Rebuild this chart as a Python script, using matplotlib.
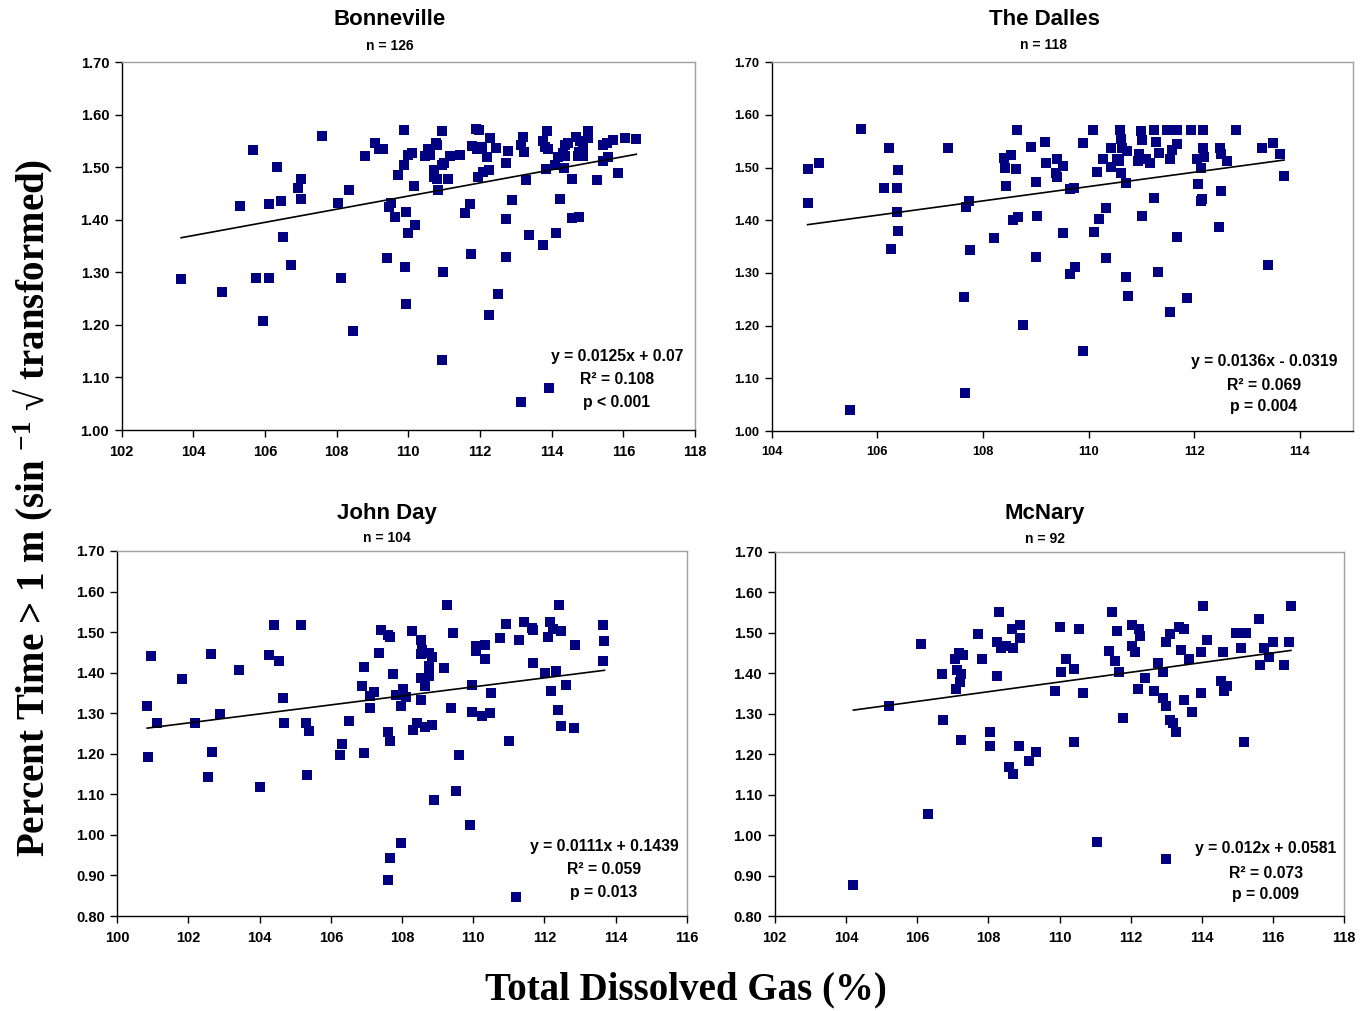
import matplotlib
matplotlib.use("Agg")
import matplotlib.pyplot as plt
import numpy as np

# ---------------- data ----------------
bon_x = [103.66, 104.81, 105.31, 105.67, 105.76, 106.12, 105.95, 106.12, 106.34, 106.45,
         106.51, 106.73, 106.93, 107.01, 107.01, 107.60, 108.05, 108.13, 108.35, 108.46,
         108.80, 109.08, 109.19, 109.30, 109.41, 109.47, 109.52, 109.64, 109.72, 109.89,
         109.89, 109.92, 109.94, 110.00, 109.94, 110.00, 110.19, 110.17, 110.11, 110.46,
         110.60, 110.56, 110.81, 110.77, 110.95, 110.95, 111.00, 110.72, 110.72, 110.79,
         110.84, 111.11, 111.16, 111.44, 110.98, 110.95, 111.59, 111.73, 111.76, 111.79,
         111.90, 111.98, 111.92, 112.06, 111.95, 112.09, 112.26, 112.20, 112.29, 112.45,
         112.51, 112.26, 112.79, 112.73, 112.73, 112.90, 112.73, 113.15, 113.21, 113.24,
         113.29, 113.38, 113.15, 113.77, 113.77, 113.82, 113.88, 113.85, 113.92, 114.13,
         114.10, 114.19, 114.32, 114.38, 114.46, 114.24, 114.35, 114.58, 114.58, 114.77,
         114.69, 114.80, 114.88, 114.88, 114.74, 115.02, 115.02, 115.27, 115.44, 115.55,
         115.72, 115.44, 115.58, 115.86, 116.06, 116.36, 113.89, 114.76, 114.37]
bon_y = [1.287, 1.262, 1.427, 1.532, 1.290, 1.290, 1.207, 1.429, 1.500, 1.435,
         1.368, 1.313, 1.460, 1.477, 1.439, 1.559, 1.431, 1.290, 1.456, 1.188,
         1.521, 1.545, 1.534, 1.534, 1.327, 1.424, 1.431, 1.405, 1.485, 1.504,
         1.570, 1.311, 1.239, 1.523, 1.414, 1.374, 1.389, 1.464, 1.526, 1.521,
         1.524, 1.534, 1.542, 1.545, 1.569, 1.504, 1.507, 1.494, 1.481, 1.477,
         1.457, 1.477, 1.521, 1.524, 1.300, 1.133, 1.412, 1.429, 1.334, 1.540,
         1.573, 1.570, 1.534, 1.538, 1.481, 1.490, 1.494, 1.520, 1.555, 1.536,
         1.258, 1.218, 1.530, 1.507, 1.401, 1.437, 1.329, 1.543, 1.557, 1.528,
         1.475, 1.370, 1.053, 1.351, 1.549, 1.538, 1.569, 1.496, 1.079, 1.374,
         1.505, 1.519, 1.526, 1.543, 1.545, 1.439, 1.498, 1.477, 1.403, 1.405,
         1.557, 1.549, 1.538, 1.521, 1.521, 1.569, 1.555, 1.475, 1.542, 1.545,
         1.551, 1.511, 1.519, 1.488, 1.555, 1.553, 1.535, 1.529, 1.522]

dal_x = [104.68, 104.89, 104.68, 105.70, 105.49, 106.23, 106.39, 106.12, 106.37, 106.37,
         106.39, 106.25, 107.34, 107.73, 107.68, 107.75, 107.64, 107.66, 108.21, 108.40,
         108.53, 108.42, 108.63, 108.44, 108.65, 108.57, 108.66, 108.76, 108.91, 109.01,
         109.03, 109.01, 109.18, 109.20, 109.41, 109.39, 109.41, 109.52, 109.52, 109.65,
         109.73, 109.65, 109.75, 109.90, 109.89, 110.09, 110.15, 110.11, 110.20, 110.32,
         110.32, 110.28, 110.43, 110.43, 110.53, 110.60, 110.62, 110.64, 110.73, 110.58,
         110.62, 110.70, 110.70, 110.75, 111.00, 111.02, 110.96, 110.93, 111.08, 111.17,
         111.02, 111.23, 111.27, 111.34, 111.23, 111.31, 111.48, 111.67, 111.67, 111.57,
         111.55, 111.67, 111.55, 111.86, 111.93, 112.16, 112.16, 112.18, 112.05, 112.12,
         112.08, 112.14, 112.12, 112.48, 112.50, 112.62, 112.50, 112.46, 112.79, 113.28,
         113.49, 113.39, 113.63, 113.70]
dal_y = [1.497, 1.508, 1.432, 1.573, 1.039, 1.538, 1.495, 1.462, 1.461, 1.415,
         1.379, 1.345, 1.538, 1.436, 1.426, 1.343, 1.254, 1.073, 1.366, 1.519,
         1.524, 1.500, 1.497, 1.466, 1.571, 1.400, 1.407, 1.201, 1.540, 1.472,
         1.409, 1.331, 1.548, 1.508, 1.516, 1.489, 1.483, 1.375, 1.504, 1.460,
         1.461, 1.299, 1.311, 1.152, 1.546, 1.571, 1.491, 1.377, 1.402, 1.423,
         1.328, 1.517, 1.538, 1.502, 1.516, 1.571, 1.554, 1.538, 1.531, 1.512,
         1.489, 1.470, 1.292, 1.257, 1.569, 1.553, 1.525, 1.512, 1.516, 1.508,
         1.409, 1.571, 1.548, 1.527, 1.442, 1.301, 1.571, 1.571, 1.544, 1.533,
         1.517, 1.369, 1.225, 1.252, 1.571, 1.571, 1.538, 1.521, 1.517, 1.500,
         1.468, 1.440, 1.436, 1.538, 1.525, 1.512, 1.455, 1.388, 1.571, 1.538,
         1.546, 1.316, 1.525, 1.485]

jd_x = [100.96, 100.84, 100.87, 101.12, 101.83, 102.19, 102.64, 102.67, 102.56, 102.89,
        103.43, 104.02, 104.27, 104.41, 104.53, 104.67, 104.69, 105.17, 105.31, 105.40,
        105.34, 106.25, 106.32, 106.52, 106.89, 106.94, 106.94, 107.11, 107.11, 107.22,
        107.34, 107.42, 107.62, 107.67, 107.76, 107.62, 107.65, 107.67, 107.62, 107.97,
        107.84, 107.97, 108.04, 108.12, 108.29, 108.54, 108.57, 108.54, 108.77, 108.83,
        108.77, 108.52, 108.77, 108.66, 108.54, 108.43, 108.32, 108.66, 108.83, 108.91,
        109.27, 109.44, 109.19, 109.39, 109.61, 109.53, 109.92, 109.98, 110.09, 110.09,
        110.34, 110.34, 109.98, 110.26, 110.48, 110.51, 110.74, 110.91, 111.02, 111.20,
        111.30, 111.44, 111.64, 111.69, 111.69, 112.03, 112.11, 112.17, 112.25, 112.48,
        112.42, 112.34, 112.20, 112.37, 112.48, 112.62, 112.87, 112.84, 113.66, 113.69,
        113.66]
jd_y = [1.441, 1.317, 1.191, 1.275, 1.384, 1.275, 1.445, 1.204, 1.142, 1.297,
        1.406, 1.117, 1.443, 1.517, 1.428, 1.337, 1.275, 1.517, 1.275, 1.255,
        1.147, 1.196, 1.223, 1.280, 1.366, 1.413, 1.201, 1.342, 1.312, 1.352,
        1.448, 1.504, 1.494, 1.487, 1.396, 1.253, 1.231, 0.942, 0.889, 0.979,
        1.344, 1.319, 1.359, 1.339, 1.502, 1.480, 1.455, 1.445, 1.448, 1.438,
        1.416, 1.388, 1.391, 1.366, 1.332, 1.275, 1.258, 1.267, 1.270, 1.085,
        1.568, 1.499, 1.411, 1.314, 1.198, 1.107, 1.024, 1.369, 1.465, 1.453,
        1.467, 1.433, 1.302, 1.292, 1.300, 1.349, 1.485, 1.519, 1.231, 0.846,
        1.480, 1.526, 1.509, 1.504, 1.423, 1.398, 1.487, 1.526, 1.507, 1.502,
        1.568, 1.403, 1.356, 1.309, 1.268, 1.369, 1.467, 1.263, 1.517, 1.477,
        1.430]

mcn_x = [104.21, 105.22, 106.11, 106.31, 106.70, 106.73, 107.07, 107.18, 107.29, 107.13,
         107.24, 107.21, 107.10, 107.24, 107.71, 107.83, 108.05, 108.05, 108.30, 108.25,
         108.36, 108.50, 108.70, 108.25, 108.67, 108.89, 108.89, 108.87, 108.58, 108.70,
         109.15, 109.34, 109.88, 110.02, 110.04, 110.18, 110.41, 110.55, 110.66, 110.41,
         111.05, 111.39, 111.48, 111.62, 111.56, 111.67, 111.78, 112.04, 112.23, 112.26,
         112.04, 112.12, 112.40, 112.21, 112.65, 112.77, 112.91, 112.91, 112.99, 113.10,
         113.19, 113.27, 112.99, 112.99, 113.10, 113.36, 113.50, 113.41, 113.64, 113.50,
         113.72, 114.03, 114.14, 113.97, 113.97, 114.53, 114.70, 114.62, 114.59, 114.96,
         115.24, 115.10, 115.18, 115.60, 115.74, 115.63, 115.88, 115.99, 116.30, 116.44,
         116.50]
mcn_y = [0.876, 1.318, 1.471, 1.051, 1.397, 1.283, 1.434, 1.449, 1.446, 1.407,
         1.397, 1.377, 1.362, 1.234, 1.496, 1.436, 1.254, 1.221, 1.550, 1.476,
         1.463, 1.468, 1.463, 1.392, 1.510, 1.520, 1.488, 1.219, 1.167, 1.152,
         1.182, 1.204, 1.355, 1.515, 1.404, 1.434, 1.409, 1.508, 1.350, 1.229,
         0.982, 1.454, 1.552, 1.505, 1.431, 1.402, 1.288, 1.520, 1.510, 1.491,
         1.468, 1.451, 1.389, 1.360, 1.357, 1.424, 1.404, 1.338, 1.320, 1.283,
         1.278, 1.254, 0.940, 1.478, 1.496, 1.515, 1.508, 1.456, 1.436, 1.333,
         1.305, 1.567, 1.483, 1.451, 1.350, 1.380, 1.367, 1.355, 1.451, 1.498,
         1.498, 1.463, 1.231, 1.533, 1.463, 1.421, 1.441, 1.476, 1.419, 1.478,
         1.567]

titles = ["Bonneville", "The Dalles", "John Day", "McNary"]
n_labels = ["n = 126", "n = 118", "n = 104", "n = 92"]
slopes = [0.0125, 0.0136, 0.0111, 0.012]
intercepts = [0.07, -0.0319, 0.1439, 0.0581]
eq_labels = ["y = 0.0125x + 0.07", "y = 0.0136x - 0.0319",
             "y = 0.0111x + 0.1439", "y = 0.012x + 0.0581"]
r2_labels = ["R² = 0.108", "R² = 0.069", "R² = 0.059", "R² = 0.073"]
p_labels = ["p < 0.001", "p = 0.004", "p = 0.013", "p = 0.009"]
xlims = [(102, 118), (104, 115), (100, 116), (102, 118)]
ylims = [(1.00, 1.70), (1.00, 1.70), (0.80, 1.70), (0.80, 1.70)]

# ---------------- layout ----------------
W, H = 1364, 1011
fig = plt.figure(figsize=(W / 100, H / 100), dpi=100)
plt.rcParams['mathtext.fontset'] = 'custom'
plt.rcParams['mathtext.rm'] = 'Liberation Serif:bold'
plt.rcParams['mathtext.bf'] = 'Liberation Serif:bold'
plt.rcParams['mathtext.it'] = 'Liberation Serif:bold'

def frac_box(x0, y0, x1, y1):
    return [x0 / W, 1 - y1 / H, (x1 - x0) / W, (y1 - y0) / H]

boxes = [frac_box(121.7, 62, 695, 430),
         frac_box(771.7, 62.3, 1352.7, 431),
         frac_box(117.3, 551, 686.7, 916),
         frac_box(774.7, 551.7, 1344.3, 916)]
title_pos = [(390, 20, 46), (1044, 20, 45), (387, 513, 538), (1045, 513, 539)]
eq_pos = [(617, 356, 380, 402), (1264, 361, 385, 406), (604, 846, 870, 892), (1266, 849, 873, 895)]
tick_fs = [10.5, 9.3, 10.5, 10.5]
xsteps = [2, 2, 2, 2]

series = [(bon_x, bon_y), (dal_x, dal_y), (jd_x, jd_y), (mcn_x, mcn_y)]
sans = ['Liberation Sans', 'DejaVu Sans']

for i in range(4):
    ax = fig.add_axes(boxes[i])
    xs, ys = np.array(series[i][0]), np.array(series[i][1])
    ax.plot(xs, ys, linestyle='none', marker='s', markersize=6.5,
            markerfacecolor='#000080', markeredgewidth=0, zorder=3)
    lx = np.array([xs.min(), xs.max()])
    ax.plot(lx, slopes[i] * lx + intercepts[i], color='black', lw=1.2, zorder=4)
    ax.set_xlim(*xlims[i])
    ax.set_ylim(*ylims[i])
    ax.set_xticks(np.arange(xlims[i][0], xlims[i][1] + 0.01, xsteps[i]))
    ax.set_yticks(np.arange(ylims[i][0], ylims[i][1] + 0.001, 0.1))
    ax.set_yticklabels([f"{v:.2f}" for v in ax.get_yticks()])
    ax.set_xticklabels([f"{int(round(v))}" for v in ax.get_xticks()])
    for lab in ax.get_xticklabels() + ax.get_yticklabels():
        lab.set_fontfamily(sans)
        lab.set_fontweight('bold')
        lab.set_fontsize(tick_fs[i])
    ax.tick_params(direction='out', length=5, width=1, color='black')
    ax.tick_params(axis='x', pad=6)
    ax.tick_params(axis='y', pad=4)
    for s in ['top', 'right']:
        ax.spines[s].set_color('#a0a0a0')
        ax.spines[s].set_linewidth(1.0)
    for s in ['left', 'bottom']:
        ax.spines[s].set_color('black')
        ax.spines[s].set_linewidth(1.0)

    tx, ty1, ty2 = title_pos[i]
    fig.text(tx / W, 1 - ty1 / H, titles[i], ha='center', va='center',
             fontsize=16, fontweight='bold', family=sans)
    fig.text(tx / W, 1 - ty2 / H, n_labels[i], ha='center', va='center',
             fontsize=10, fontweight='bold', family=sans)
    ex, ey1, ey2, ey3 = eq_pos[i]
    for lab, yy in zip([eq_labels[i], r2_labels[i], p_labels[i]], [ey1, ey2, ey3]):
        fig.text(ex / W, 1 - yy / H, lab, ha='center', va='center',
                 fontsize=11.3, fontweight='bold', family=sans)

serif = ['Liberation Serif', 'DejaVu Serif']
fig.text(33 / W, 1 - 508 / H,
         r"Percent Time > 1 m (sin $^{-1}$ √ transformed)",
         rotation=90, ha='center', va='center', fontsize=28,
         fontweight='bold', family=serif)
fig.text(686 / W, 1 - 990 / H, "Total Dissolved Gas (%)", ha='center', va='center',
         fontsize=28, fontweight='bold', family=serif)

fig.savefig("out.png", dpi=100)
